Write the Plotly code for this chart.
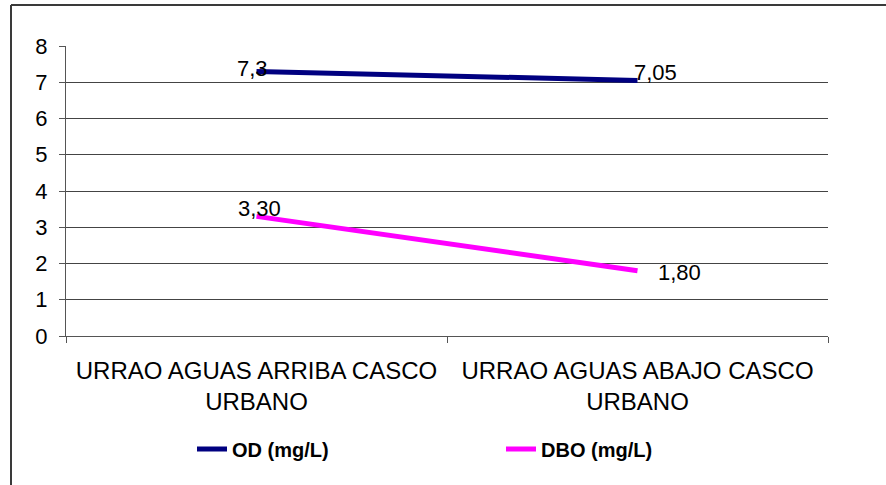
import plotly.graph_objects as go

# Sampling sites (x categories) and measured parameters
sites = ["URRAO AGUAS ARRIBA CASCO<br>URBANO", "URRAO AGUAS ABAJO CASCO<br>URBANO"]
od_values = [7.3, 7.05]
dbo_values = [3.30, 1.80]
od_labels = ["7,3", "7,05"]
dbo_labels = ["3,30", "1,80"]
y_ticks = [0, 1, 2, 3, 4, 5, 6, 7, 8]

FONT = "Liberation Sans, Arial, sans-serif"
W, H = 886, 485
M_L, M_R, M_T, M_B = 66, 58, 46, 149
pw = W - M_L - M_R
ph = H - M_T - M_B

fig = go.Figure()
fig.add_trace(go.Scatter(x=sites, y=od_values, mode="lines", name="OD (mg/L)",
                         line=dict(color="#000080", width=5), legend="legend"))
fig.add_trace(go.Scatter(x=sites, y=dbo_values, mode="lines", name="DBO (mg/L)",
                         line=dict(color="#FF00FF", width=5), legend="legend2"))

# value labels next to each point: (xanchor, xshift, yshift)
od_label_style = [("center", -4, 3), ("left", -6, 8)]
dbo_label_style = [("center", 3, 8), ("left", 18, -2)]
for vals, labels, styles in ((od_values, od_labels, od_label_style),
                             (dbo_values, dbo_labels, dbo_label_style)):
    for x, y, t, (xa, dx, dy) in zip(sites, vals, labels, styles):
        fig.add_annotation(x=x, y=y, text=t, showarrow=False, xanchor=xa,
                           yanchor="middle", xshift=dx, yshift=dy,
                           font=dict(family=FONT, size=22, color="black"))

# outer chart frame (clipped by the page on the right and bottom)
fx = (11 - M_L) / pw
fy = (H - M_B - 5) / ph
fig.add_shape(type="line", xref="paper", yref="paper", x0=fx, x1=1.2, y0=fy, y1=fy,
              line=dict(color="#3a3a3a", width=2))
fig.add_shape(type="line", xref="paper", yref="paper", x0=fx, x1=fx, y0=fy, y1=-0.6,
              line=dict(color="#3a3a3a", width=2))

legend_font = dict(family=FONT, size=20, color="black", weight="bold")
legend_y = (H - M_B - 449) / ph


def legend_box(px):
    return dict(orientation="h", x=(px - M_L) / pw, xanchor="left",
                y=legend_y, yanchor="middle", font=legend_font,
                bgcolor="rgba(0,0,0,0)", borderwidth=0)


fig.update_layout(
    width=W, height=H,
    margin=dict(l=M_L, r=M_R, t=M_T, b=M_B, autoexpand=False),
    paper_bgcolor="white", plot_bgcolor="white",
    font=dict(family=FONT, color="black"),
    showlegend=True,
    legend=legend_box(192),
    legend2=legend_box(501),
    xaxis=dict(type="category", range=[-0.5, 1.5], automargin=False,
               showgrid=False, showline=True, linecolor="#555",
               linewidth=1, ticks="outside", tickson="boundaries", ticklen=6,
               tickcolor="#555", tickfont=dict(family=FONT, size=24, color="black"),
               ticklabelstandoff=13),
    yaxis=dict(range=[0, 8], tickvals=y_ticks, automargin=False,
               showgrid=True, gridcolor="#444",
               gridwidth=1, showline=True, linecolor="#555", linewidth=1,
               ticks="outside", ticklen=6, tickcolor="#555", zeroline=False,
               tickfont=dict(family=FONT, size=22, color="black"),
               ticklabelstandoff=7),
)

fig.write_html("out.html")
